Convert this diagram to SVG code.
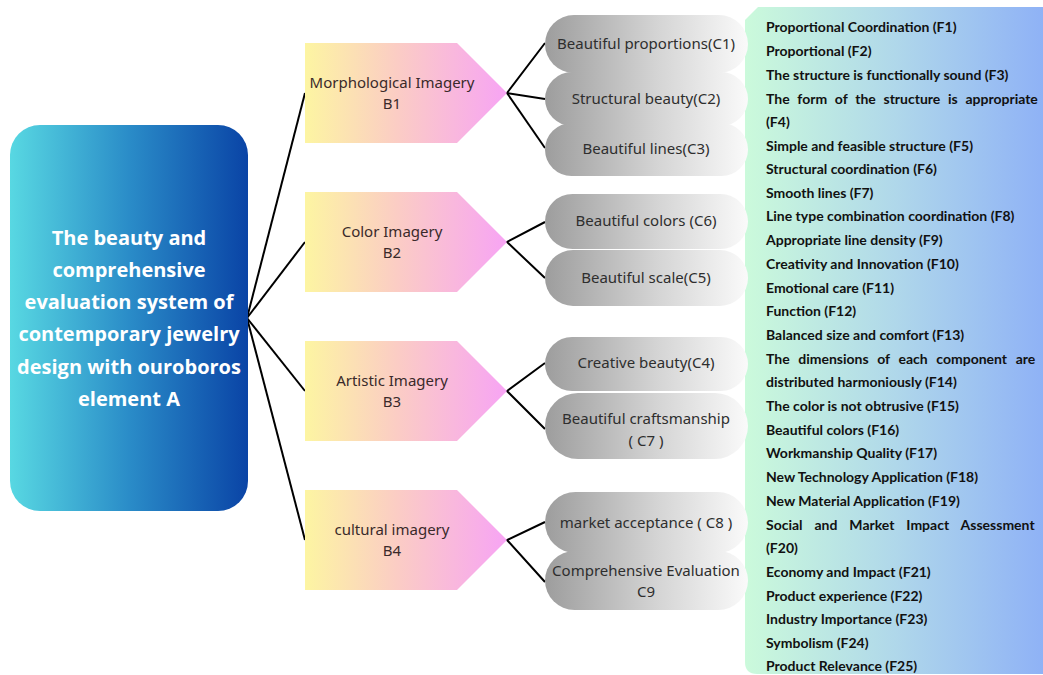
<svg xmlns="http://www.w3.org/2000/svg" width="1043" height="675" viewBox="0 0 1043 675">
<defs>
<linearGradient id="gA" x1="0" y1="0" x2="1" y2="0"><stop offset="0" stop-color="#58d8e2"/><stop offset="0.5" stop-color="#2a8cc8"/><stop offset="1" stop-color="#0a44a6"/></linearGradient>
<linearGradient id="gB" x1="0" y1="0" x2="1" y2="0"><stop offset="0" stop-color="#fdf5a2"/><stop offset="0.45" stop-color="#fbcdc4"/><stop offset="1" stop-color="#f7a4f4"/></linearGradient>
<linearGradient id="gC" x1="0" y1="0" x2="1" y2="0"><stop offset="0" stop-color="#9d9d9d"/><stop offset="0.55" stop-color="#d4d4d4"/><stop offset="1" stop-color="#fafafa"/></linearGradient>
<linearGradient id="gF" x1="0" y1="0" x2="1" y2="0"><stop offset="0" stop-color="#cbfadb"/><stop offset="0.5" stop-color="#b0d8ea"/><stop offset="1" stop-color="#8fb2f6"/></linearGradient>
</defs>
<style>
.a{font-family:"Open Sans","DejaVu Sans",sans-serif;font-weight:700;font-size:20px;fill:#ffffff;text-anchor:middle}
.b{font-family:"Noto Sans","Open Sans",sans-serif;font-size:15px;fill:#3a2a2a;text-anchor:middle}
.c{font-family:"Noto Sans","Open Sans",sans-serif;font-size:15px;fill:#2e2e2e;text-anchor:middle}
.f{font-family:Lato,"Liberation Sans",sans-serif;font-weight:700;font-size:14px;fill:#111111}
.ln{stroke:#000;stroke-width:2;fill:none}
.pent{fill:url(#gB)}
.pill{fill:url(#gC)}
</style>
<g id="panelF">
<path d="M745,20 L758,7 L1043,7 L1043,674 L757,674 Q745,674 745,662 Z" fill="url(#gF)"/>
<text class="f" x="766" y="32">Proportional Coordination (F1)</text>
<text class="f" x="766" y="56">Proportional (F2)</text>
<text class="f" x="766" y="80">The structure is functionally sound (F3)</text>
<text class="f" x="766" y="104" word-spacing="4.3">The form of the structure is appropriate</text>
<text class="f" x="766" y="127">(F4)</text>
<text class="f" x="766" y="151">Simple and feasible structure (F5)</text>
<text class="f" x="766" y="174">Structural coordination (F6)</text>
<text class="f" x="766" y="198">Smooth lines (F7)</text>
<text class="f" x="766" y="221">Line type combination coordination (F8)</text>
<text class="f" x="766" y="245">Appropriate line density (F9)</text>
<text class="f" x="766" y="269">Creativity and Innovation (F10)</text>
<text class="f" x="766" y="293">Emotional care (F11)</text>
<text class="f" x="766" y="316">Function (F12)</text>
<text class="f" x="766" y="340">Balanced size and comfort (F13)</text>
<text class="f" x="766" y="364" word-spacing="5.2">The dimensions of each component are</text>
<text class="f" x="766" y="387">distributed harmoniously (F14)</text>
<text class="f" x="766" y="411">The color is not obtrusive (F15)</text>
<text class="f" x="766" y="435">Beautiful colors (F16)</text>
<text class="f" x="766" y="458">Workmanship Quality (F17)</text>
<text class="f" x="766" y="482">New Technology Application (F18)</text>
<text class="f" x="766" y="506">New Material Application (F19)</text>
<text class="f" x="766" y="530" word-spacing="8.5">Social and Market Impact Assessment</text>
<text class="f" x="766" y="553">(F20)</text>
<text class="f" x="766" y="577">Economy and Impact (F21)</text>
<text class="f" x="766" y="601">Product experience (F22)</text>
<text class="f" x="766" y="624">Industry Importance (F23)</text>
<text class="f" x="766" y="648">Symbolism (F24)</text>
<text class="f" x="766" y="671">Product Relevance (F25)</text>
</g>
<g id="connectors">
<line class="ln" x1="247" y1="318" x2="305" y2="93"/>
<line class="ln" x1="247" y1="318" x2="305" y2="242"/>
<line class="ln" x1="247" y1="318" x2="305" y2="391"/>
<line class="ln" x1="247" y1="318" x2="305" y2="540"/>
<polyline class="ln" points="545,43 507,93 545,99"/>
<line class="ln" x1="507" y1="93" x2="545" y2="148"/>
<polyline class="ln" points="545,222 507,242 545,278"/>
<polyline class="ln" points="545,363 507,391 545,429"/>
<polyline class="ln" points="545,522 507,540 545,582"/>
</g>
<g id="nodeA">
<rect x="10" y="125" width="238" height="386" rx="30" fill="url(#gA)"/>
<text class="a" x="129" y="245">The beauty and</text>
<text class="a" x="129" y="277">comprehensive</text>
<text class="a" x="129" y="309">evaluation system of</text>
<text class="a" x="129" y="341">contemporary jewelry</text>
<text class="a" x="129" y="374">design with ouroboros</text>
<text class="a" x="129" y="406">element A</text>
</g>
<g id="nodeB1"><path class="pent" d="M305,43 H457 L507,93 L457,143 H305 Z"/><text class="b" x="392" y="88">Morphological Imagery</text><text class="b" x="392" y="109">B1</text></g>
<g id="nodeB2"><path class="pent" d="M305,192 H457 L507,242 L457,292 H305 Z"/><text class="b" x="392" y="237">Color Imagery</text><text class="b" x="392" y="258">B2</text></g>
<g id="nodeB3"><path class="pent" d="M305,341 H457 L507,391 L457,441 H305 Z"/><text class="b" x="392" y="386">Artistic Imagery</text><text class="b" x="392" y="407">B3</text></g>
<g id="nodeB4"><path class="pent" d="M305,490 H457 L507,540 L457,590 H305 Z"/><text class="b" x="392" y="535">cultural imagery</text><text class="b" x="392" y="556">B4</text></g>
<g id="nodeC1"><rect class="pill" x="545" y="15" width="203" height="58" rx="29"/><text class="c" x="646" y="49">Beautiful proportions(C1)</text></g>
<g id="nodeC2"><rect class="pill" x="545" y="72" width="203" height="54" rx="27"/><text class="c" x="646" y="104">Structural beauty(C2)</text></g>
<g id="nodeC3"><rect class="pill" x="545" y="123" width="203" height="53" rx="26.5"/><text class="c" x="646" y="154">Beautiful lines(C3)</text></g>
<g id="nodeC6"><rect class="pill" x="545" y="194" width="203" height="55" rx="27.5"/><text class="c" x="646" y="226">Beautiful colors (C6)</text></g>
<g id="nodeC5"><rect class="pill" x="545" y="250" width="203" height="56" rx="28"/><text class="c" x="646" y="283">Beautiful scale(C5)</text></g>
<g id="nodeC4"><rect class="pill" x="545" y="337" width="203" height="54" rx="27"/><text class="c" x="646" y="368">Creative beauty(C4)</text></g>
<g id="nodeC7"><rect class="pill" x="545" y="393" width="203" height="66" rx="33"/><text class="c" x="646" y="424">Beautiful craftsmanship</text><text class="c" x="646" y="446">( C7 )</text></g>
<g id="nodeC8"><rect class="pill" x="545" y="492" width="203" height="61" rx="30.5"/><text class="c" x="646" y="528">market acceptance ( C8 )</text></g>
<g id="nodeC9"><rect class="pill" x="545" y="551" width="203" height="59" rx="29.5"/><text class="c" x="646" y="576">Comprehensive Evaluation</text><text class="c" x="646" y="597">C9</text></g>
</svg>
